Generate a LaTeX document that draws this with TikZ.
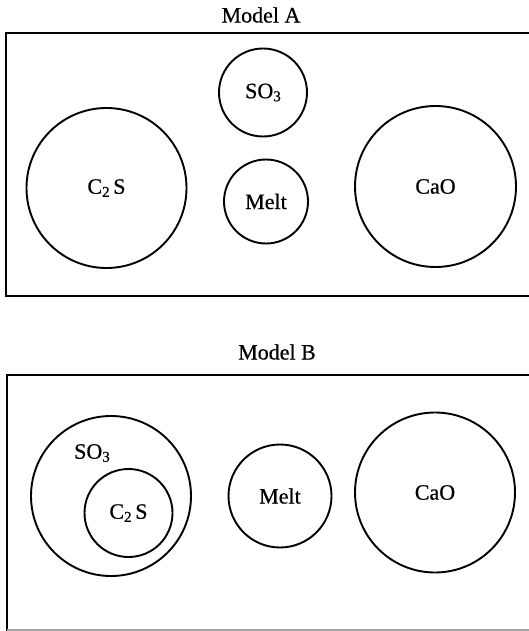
\documentclass[tikz,border=0pt]{standalone}
\usepackage{fontspec}
\setmainfont{Liberation Serif}[FakeBold=0.6]
\newcommand{\lowsub}[1]{\raisebox{-0.3ex}{\fontsize{15}{18}\selectfont #1}}
\begin{document}
\begin{tikzpicture}[x=1pt,y=-1pt,
  phase/.style={draw, circle, line width=1.9pt, inner sep=0pt, font=\fontsize{22}{26}\selectfont},
  caption/.style={font=\fontsize{22}{26}\selectfont},
  tag/.style={font=\fontsize{22}{26}\selectfont, inner sep=0pt},
  frame/.style={line width=1.6pt}]
\useasboundingbox (0,0) rectangle (529,631);
\clip (0,0) rectangle (529,631);

% Model A
\node[caption] (titleA) at (261,15) {Model A};
\draw[frame] (540,33) -- (6,33) -- (6,296) -- (540,296);
\node[phase, minimum size=160pt] (c2sA) at (106.5,188) {C\lowsub{2}\,S};
\node[phase, minimum size=88pt] (so3A) at (263,92.5) {SO\lowsub{3}};
\node[phase, minimum size=84pt] (meltA) at (266,201.5) {Melt};
\node[phase, minimum size=161pt] (caoA) at (435.5,186.5) {CaO};

% Model B
\node[caption] (titleB) at (277,352) {Model B};
\draw[frame] (540,375) -- (7,375) -- (7,631);
\draw[line width=1.2pt, black!35] (7,630) -- (540,630);
\node[phase, minimum size=160pt] (so3B) at (111,496) {};
\node[tag] (so3Blabel) at (92,453) {SO\lowsub{3}};
\node[phase, minimum size=88pt] (c2sB) at (128.5,513) {C\lowsub{2}\,S};
\node[phase, minimum size=103pt] (meltB) at (280,496) {Melt};
\node[phase, minimum size=160pt] (caoB) at (435,492.5) {CaO};
\end{tikzpicture}
\end{document}
